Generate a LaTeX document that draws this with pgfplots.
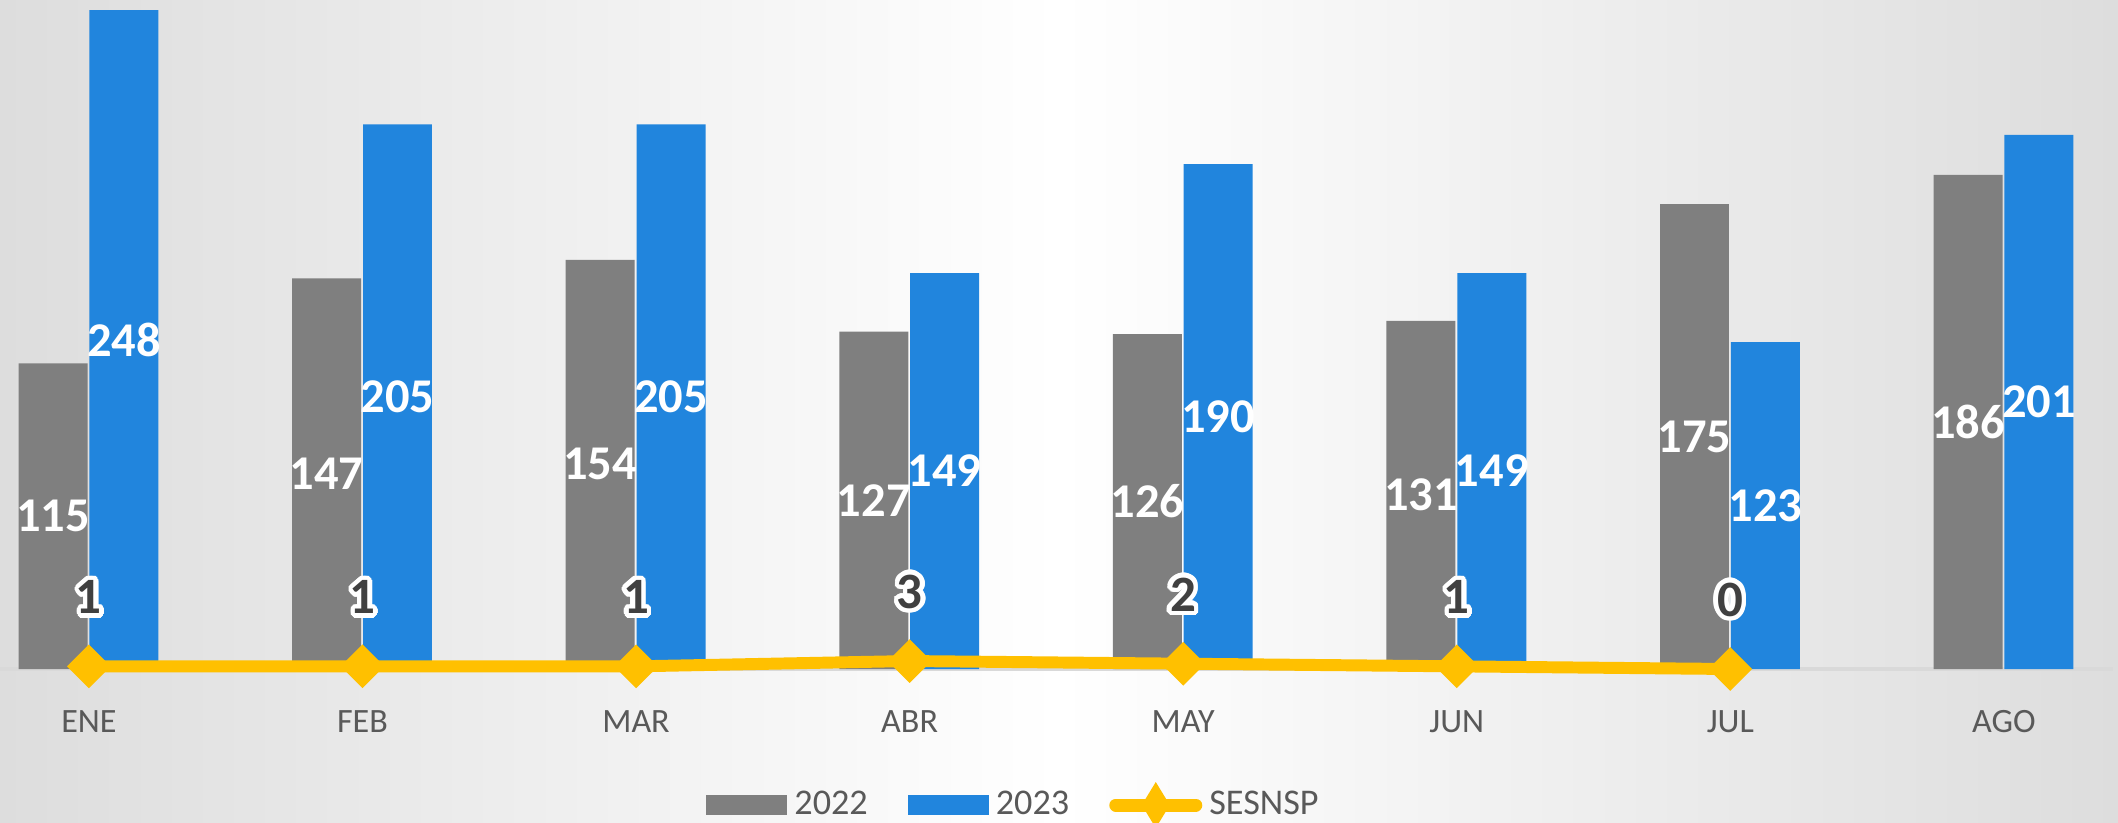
\documentclass[border=0pt]{standalone}
\usepackage{fontspec}
\setmainfont{Carlito}
\usepackage{pgfplots}
\pgfplotsset{compat=1.18}
\usepackage[copies]{contour}
\contourlength{1.3pt}
\contournumber{24}
\definecolor{c22}{RGB}{127,127,127}
\definecolor{c23}{RGB}{33,133,221}
\definecolor{cses}{RGB}{255,192,0}
\definecolor{tickgray}{RGB}{89,89,89}
\definecolor{lblgray}{RGB}{64,64,64}
\definecolor{axisgray}{RGB}{217,217,217}
\definecolor{bgside}{RGB}{221,221,221}
\begin{document}
\begin{tikzpicture}
\shade[left color=bgside, right color=bgside, middle color=white] (0,0) rectangle (21.18cm,8.22cm);
\begin{axis}[
  at={(0,1.53cm)}, anchor=south west,
  scale only axis, width=21.18cm, height=6.69cm,
  xmin=-0.325, xmax=7.417, ymin=0, ymax=251.8,
  clip=false,
  axis line style={draw=none},
  ytick=\empty,
  xtick={0,...,7},
  xticklabels={ENE,FEB,MAR,ABR,MAY,JUN,JUL,AGO},
  major tick length=0pt,
  xticklabel style={font=\fontsize{9.7}{11}\selectfont, text=tickgray, inner sep=0pt, anchor=north, yshift=-0.41cm},
  /pgf/number format/assume math mode=true,
  legend style={at={(0.4797,0)}, anchor=center, yshift=-1.36cm, draw=none, fill=none,
    font=\fontsize{10.3}{12}\selectfont, text=tickgray,
    /tikz/every even column/.append style={column sep=0.33cm}},
  legend columns=3,
  legend cell align=left,
]
\draw[axisgray, line width=1.2pt] (axis cs:-0.325,0) -- (axis cs:7.4,0);
\addplot[ybar, bar width=0.252, bar shift=-0.131, fill=c22, draw=none,
  visualization depends on=rawy \as \rawy,
  nodes near coords,
  every node near coord/.append style={anchor=center, xshift=-0.358cm, yshift={-0.5*\rawy*0.026569cm}, text=white,
    font=\fontsize{13.8}{16}\selectfont\bfseries},
  legend image code/.code={\fill[c22] (0cm,-0.1cm) rectangle (0.81cm,0.1cm);}]
coordinates {(0,115) (1,147) (2,154) (3,127) (4,126) (5,131) (6,175) (7,186)};
\addlegendentry{2022}
\addplot[ybar, bar width=0.252, bar shift=0.128, fill=c23, draw=none,
  visualization depends on=rawy \as \rawy,
  nodes near coords,
  every node near coord/.append style={anchor=center, xshift=0.350cm, yshift={-0.5*\rawy*0.026569cm}, text=white,
    font=\fontsize{13.8}{16}\selectfont\bfseries},
  legend image code/.code={\fill[c23] (0cm,-0.1cm) rectangle (0.81cm,0.1cm);}]
coordinates {(0,248) (1,205) (2,205) (3,149) (4,190) (5,149) (6,123) (7,201)};
\addlegendentry{2023}
\addplot[cses, line width=3.4pt, mark=square*, mark size=4.2pt,
  mark options={rotate=45, fill=cses, draw=cses, line width=0.4pt},
  nodes near coords={\contour{white}{\pgfmathprintnumber{\pgfplotspointmeta}}},
  every node near coord/.append style={anchor=center, yshift=0.67cm, text=lblgray,
    font=\fontsize{14.5}{16}\selectfont\bfseries},
  legend image code/.code={
    \draw[cses, line width=0.13cm, line cap=round] (0.065cm,0cm) -- (0.865cm,0cm);
    \fill[cses] (0.465cm,0.115cm) -- (0.535cm,0cm) -- (0.465cm,-0.115cm) -- (0.395cm,0cm) -- cycle;}]
coordinates {(0,1) (1,1) (2,1) (3,3) (4,2) (5,1) (6,0)};
\addlegendentry{SESNSP}
\end{axis}
\pgfresetboundingbox
\useasboundingbox (0,0) rectangle (21.18cm,8.22cm);
\end{tikzpicture}
\end{document}
